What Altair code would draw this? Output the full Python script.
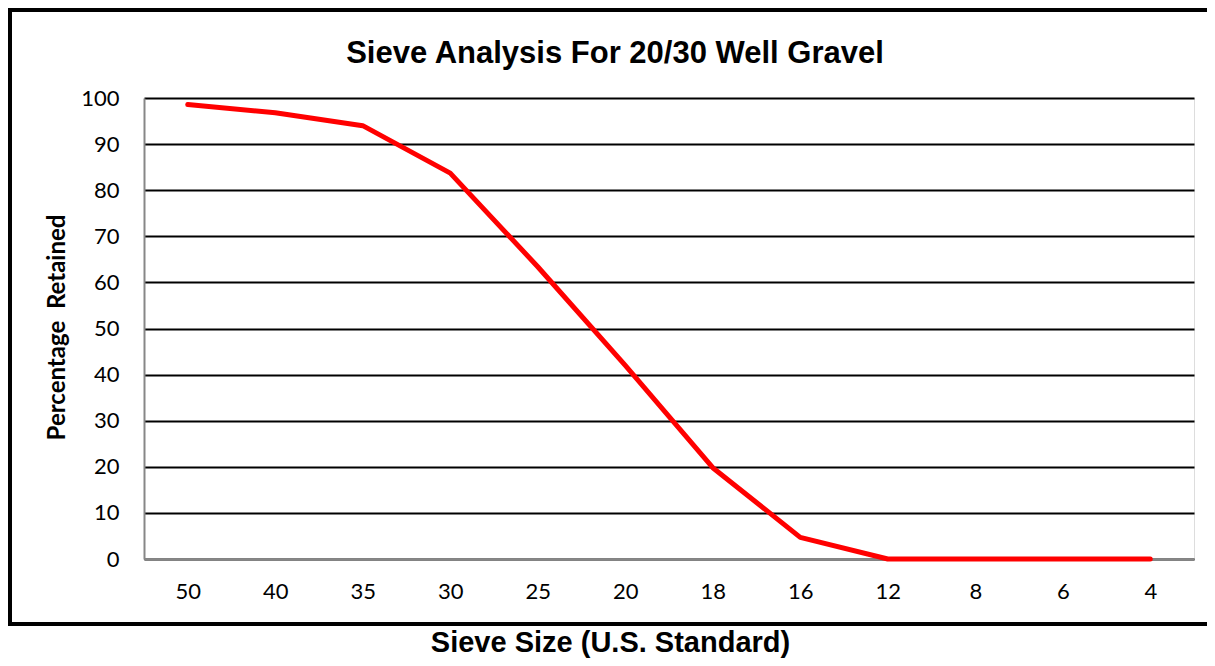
import altair as alt
import pandas as pd

sieve_sizes = ["50", "40", "35", "30", "25", "20", "18", "16", "12", "8", "6", "4"]
pct_retained = [98.6, 96.8, 94.0, 83.7, 63.4, 42.0, 19.8, 4.7, 0.0, 0.0, 0.0, 0.0]
y_ticks = [0, 10, 20, 30, 40, 50, 60, 70, 80, 90, 100]
chart_title = "Sieve Analysis For 20/30 Well Gravel"
x_title = "Sieve Size (U.S. Standard)"
y_title = "Percentage\u00a0 Retained"

df = pd.DataFrame({"sieve": sieve_sizes, "pct": pct_retained})

W, H = 1050, 461
LEFT, TOP = 144, 98

line = alt.Chart(df).mark_line(
    color="#FF0000", strokeWidth=5, strokeCap="round", strokeJoin="round"
).encode(
    x=alt.X(
        "sieve:O",
        sort=sieve_sizes,
        scale=alt.Scale(type="point", padding=0.5),
        axis=alt.Axis(
            title=x_title,
            labelAngle=0,
            labelFont="Lato",
            labelFontSize=22,
            labelColor="#000000",
            labelPadding=22,
            ticks=False,
            domain=True,
            domainColor="#878787",
            domainWidth=2,
            grid=False,
            titleFont="Liberation Sans",
            titleFontSize=29,
            titleFontWeight="bold",
            titleColor="#000000",
            titleX=466,
            titleY=92,
            titleAlign="center",
            titleBaseline="alphabetic",
        ),
    ),
    y=alt.Y(
        "pct:Q",
        scale=alt.Scale(domain=[0, 100], nice=False, zero=True),
        axis=alt.Axis(
            title=y_title,
            values=y_ticks,
            labelFont="Lato",
            labelFontSize=22,
            labelColor="#000000",
            labelPadding=25,
            ticks=False,
            domain=True,
            domainColor="#878787",
            domainWidth=2,
            grid=True,
            gridColor="#000000",
            gridWidth=2,
            gridOpacity=1,
            titleFont="Lato",
            titleFontSize=24,
            titleFontWeight="bold",
            titleColor="#000000",
            titleX=-80,
            titleY=229,
            titleAngle=270,
            titleAlign="center",
            titleBaseline="alphabetic",
        ),
    ),
)

border = alt.Chart(pd.DataFrame({"b": [0]})).mark_rect(
    filled=False, stroke="#000000", strokeWidth=4
).encode(
    x=alt.value(10 - LEFT),
    x2=alt.value(1222 - LEFT),
    y=alt.value(10 - TOP),
    y2=alt.value(624 - TOP),
)

title = alt.Chart(pd.DataFrame({"t": [chart_title]})).mark_text(
    font="Liberation Sans",
    fontSize=31,
    fontWeight="bold",
    color="#000000",
    align="center",
    baseline="alphabetic",
).encode(
    text="t:N",
    x=alt.value(615 - LEFT),
    y=alt.value(63 - TOP),
)

chart = alt.layer(border, title, line).properties(
    width=W,
    height=H,
    autosize=alt.AutoSizeParams(type="none"),
    padding={"left": LEFT - 8, "top": TOP - 8, "right": 1199 - (LEFT - 8) - W, "bottom": 650 - (TOP - 8) - H},
).configure_view(
    stroke="#000000", strokeWidth=2
).configure(background="#ffffff")

chart.save("out.html", embed_options={"renderer": "svg", "actions": False})
